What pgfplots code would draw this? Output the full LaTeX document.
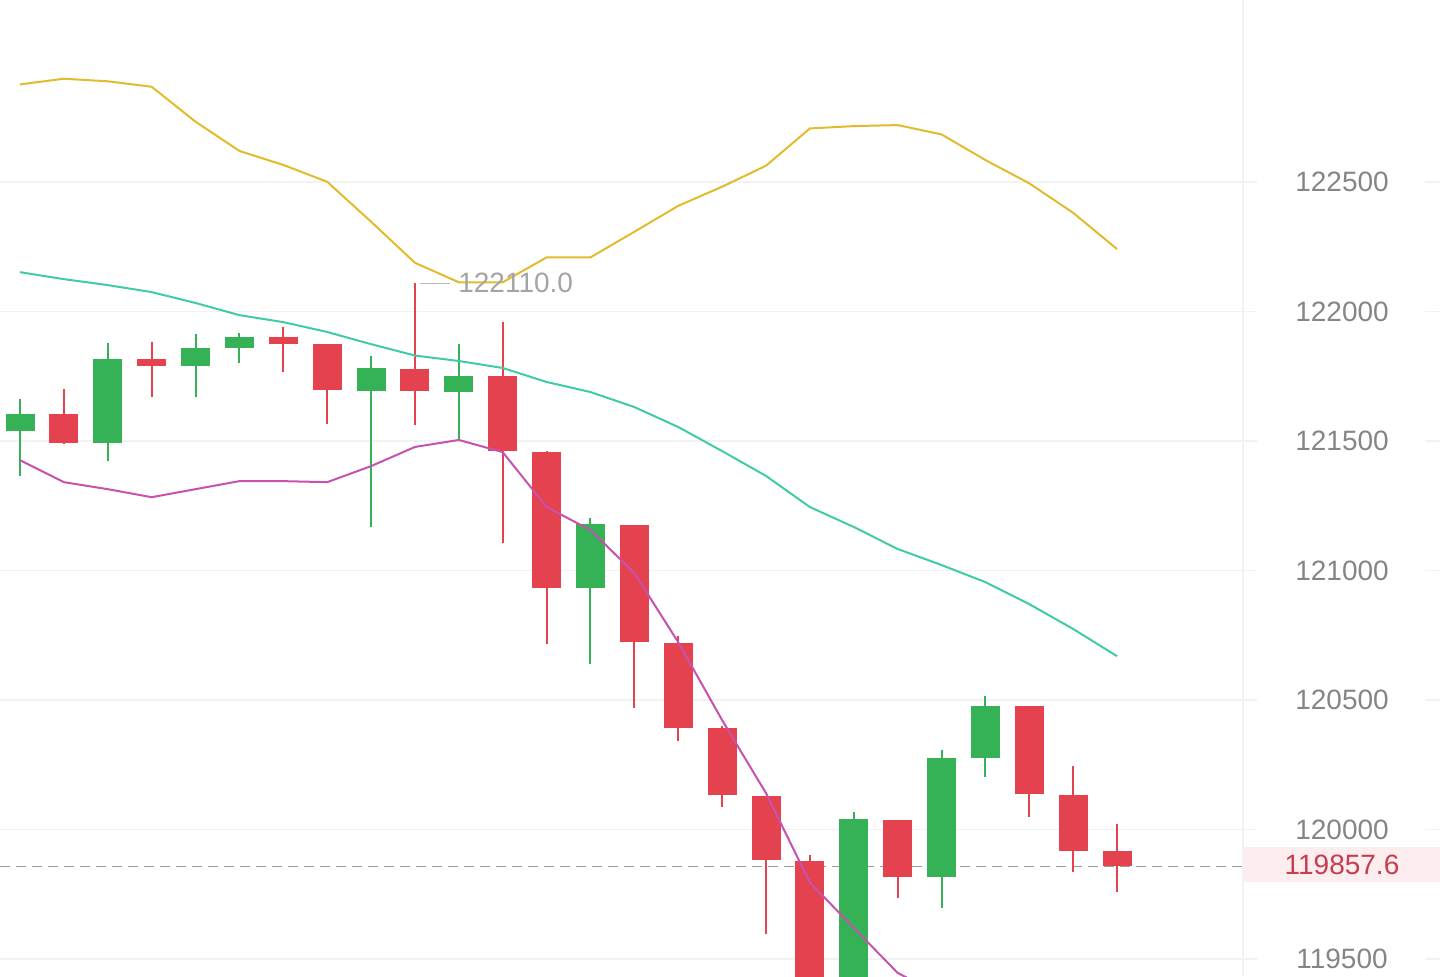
\documentclass[border=0pt]{standalone}
\usepackage{fontspec}
\setmainfont{Liberation Sans}
\usepackage{pgfplots}
\pgfplotsset{compat=1.18}
\usepackage{pgfplotstable}

\definecolor{upc}{HTML}{35B256}
\definecolor{dnc}{HTML}{E5424F}
\definecolor{ubc}{HTML}{E2BB2C}
\definecolor{mbc}{HTML}{3FCAA8}
\definecolor{lbc}{HTML}{C652AE}
\definecolor{gridc}{HTML}{F2F2F2}
\definecolor{labc}{HTML}{858585}
\definecolor{pricec}{HTML}{C43E50}
\definecolor{pricebg}{HTML}{FDEDEE}
\definecolor{dashc}{HTML}{9A9A9A}

% rising candles: index open high low close
\pgfplotstableread{
x o h l c
0 121538 121662 121365 121604
2 121492 121878 121423 121816
4 121789 121913 121670 121859
5 121859 121917 121801 121901
8 121693 121828 121168 121782
10 121689 121874 121504 121751
13 120932 121202 120638 121179
19 119390 120067 119340 120040
21 119815 120306 119696 120275
22 120275 120515 120202 120476
}\upcandles

% falling candles
\pgfplotstableread{
x o h l c
1 121604 121701 121490 121492
3 121816 121882 121670 121789
6 121901 121940 121766 121874
7 121874 121876 121565 121697
9 121778 122110 121561 121693
11 121751 121959 121106 121461
12 121457 121462 120716 120932
14 121175 121176 120469 120723
15 120720 120747 120341 120391
16 120391 120399 120086 120133
17 120129 120131 119596 119882
18 119878 119901 119300 119380
20 120036 120037 119735 119816
23 120476 120477 120048 120136
24 120133 120245 119835 119916
25 119916 120021 119758 119857.6
}\downcandles

% Bollinger bands: index upper middle lower
\pgfplotstableread{
x up mid lo
0 122877 122152 121426
1 122899 122125 121341
2 122889 122102 121314
3 122868 122075 121283
4 122733 122033 121314
5 122620 121986 121345
6 122566 121959 121345
7 122501 121921 121341
8 122347 121874 121403
9 122188 121830 121477
10 122113 121809 121504
11 122113 121782 121457
12 122209 121728 121245
13 122209 121689 121156
14 122308 121631 120990
15 122408 121554 120723
16 122482 121461 120422
17 122563 121365 120140
18 122707 121245 119795
19 122716 121168 119620
20 122720 121083 119446
21 122684 121021 119358
22 122585 120955 119325
23 122495 120870 119245
24 122381 120774 119167
25 122241 120669 119097
}\bands

\begin{document}
\begin{tikzpicture}
\useasboundingbox (0,0) rectangle (720pt,488pt);
\begin{axis}[
  at={(0,0)}, anchor=south west,
  scale only axis, width=621.5pt, height=488pt,
  xmin=-0.456, xmax=27.87,
  ymin=119434, ymax=123203,
  axis line style={draw=none},
  xtick=\empty,
  ytick={119500,120000,120500,121000,121500,122000,122500},
  scaled y ticks=false,
  yticklabel pos=right,
  major tick length=0pt,
  ymajorgrids,
  grid style={draw=gridc, line width=0.6pt},
  yticklabel style={anchor=center, xshift=49.5pt, text=labc,
    font=\fontsize{14}{16}\selectfont,
    /pgf/number format/.cd, assume math mode=true, 1000 sep={}, fixed},
  clip mode=individual,
  candle/.style={draw=none, mark=none,
    error bars/.cd, y dir=plus, y explicit, error mark=none},
]
% right panel stubs of the grid lines
\pgfplotsinvokeforeach{119500,120000,120500,121000,121500,122000,122500}{
  \draw[gridc, line width=0.6pt] (axis cs:27.87,#1) -- (axis cs:28.19,#1);
  \draw[gridc, line width=0.6pt] (axis cs:32.02,#1) -- (axis cs:32.5,#1);
}
\draw[gridc, line width=0.8pt] (rel axis cs:1,0) -- (rel axis cs:1,1);

% last price dashed line
\addplot[dashc, line width=0.7pt, dash pattern=on 5pt off 3pt]
  coordinates {(-0.456,119857.6) (27.87,119857.6)};

% wicks
\addplot[candle, error bar style={draw=upc, line width=1pt, line cap=butt}]
  table[x=x, y=l, y error plus expr=\thisrow{h}-\thisrow{l}] {\upcandles};
\addplot[candle, error bar style={draw=dnc, line width=1pt, line cap=butt}]
  table[x=x, y=l, y error plus expr=\thisrow{h}-\thisrow{l}] {\downcandles};
% bodies
\addplot[candle, error bar style={draw=upc, line width=14.5pt, line cap=butt}]
  table[x=x, y=o, y error plus expr=\thisrow{c}-\thisrow{o}] {\upcandles};
\addplot[candle, error bar style={draw=dnc, line width=14.5pt, line cap=butt}]
  table[x=x, y=c, y error plus expr=\thisrow{o}-\thisrow{c}] {\downcandles};

% bands
\addplot[ubc, line width=1pt, mark=none] table[x=x, y=up] {\bands};
\addplot[mbc, line width=1pt, mark=none] table[x=x, y=mid] {\bands};
\addplot[lbc, line width=1pt, mark=none] table[x=x, y=lo] {\bands};

% max annotation
\draw[dashc!70, line width=0.5pt] (axis cs:9.12,122110) -- (axis cs:9.80,122110);
\node[anchor=west, inner sep=0pt, text=dashc!90, font=\fontsize{14}{16}\selectfont]
  at (axis cs:9.98,122110) {122110.0};
\end{axis}
\fill[pricebg] (622pt,47pt) rectangle (720pt,64.5pt);
\node[text=pricec, font=\fontsize{14}{16}\selectfont] at (671pt,55.75pt) {119857.6};
\end{tikzpicture}
\end{document}
